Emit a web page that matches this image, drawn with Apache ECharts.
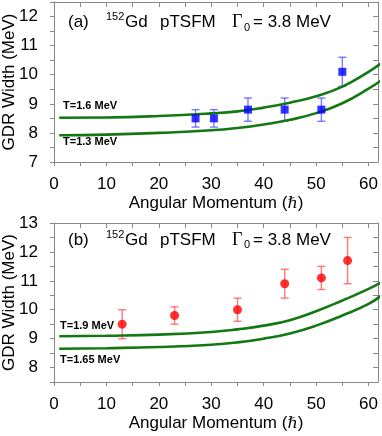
<!DOCTYPE html>
<html>
<head>
<meta charset="utf-8">
<script src="https://cdn.jsdelivr.net/npm/echarts@6/dist/echarts.min.js"></script>
<style>
  html, body { margin: 0; padding: 0; background: #fff; }
  #chart { width: 382px; height: 436px; }
</style>
</head>
<body>
<div id="chart"></div>
<script>
// angular momentum grid for the model curves
var curveJ = [1, 10, 20, 30, 35, 40, 45, 50, 55, 60, 62.6];
var widthT16 = [8.52, 8.53, 8.58, 8.67, 8.74, 8.87, 9.04, 9.26, 9.59, 10.10, 10.42];
var widthT13 = [7.92, 7.94, 8.00, 8.09, 8.17, 8.29, 8.45, 8.68, 9.02, 9.52, 9.83];
var widthT19 = [9.08, 9.10, 9.14, 9.23, 9.32, 9.45, 9.64, 9.95, 10.32, 10.72, 10.97];
var widthT165 = [8.65, 8.67, 8.71, 8.79, 8.87, 9.00, 9.18, 9.45, 9.80, 10.20, 10.52];

// measured points, panel (a)
var expJ_a = [27, 30.5, 37, 44, 51, 55];
var expW_a = [8.5, 8.5, 8.8, 8.8, 8.8, 10.1];
var expLo_a = [8.2, 8.2, 8.4, 8.4, 8.4, 9.6];
var expHi_a = [8.8, 8.8, 9.2, 9.2, 9.2, 10.6];

// measured points, panel (b)
var expJ_b = [13, 23, 35, 44, 51, 56];
var expW_b = [9.5, 9.8, 10.0, 10.9, 11.1, 11.7];
var expLo_b = [9.0, 9.5, 9.6, 10.4, 10.7, 10.9];
var expHi_b = [10.0, 10.1, 10.4, 11.4, 11.5, 12.5];

var xTicks = [0, 10, 20, 30, 40, 50, 60];

function pairs(xs, ys) {
    return xs.map(function (x, i) { return [x, ys[i]]; });
}
function triples(xs, lo, hi) {
    return xs.map(function (x, i) { return [x, lo[i], hi[i]]; });
}

var font = 'Liberation Sans, Arial, sans-serif';
var frame = '#888';
var green = '#127812';

function errorBars(color) {
    return function (params, api) {
        var x = api.value(0);
        var lo = api.coord([x, api.value(1)]);
        var hi = api.coord([x, api.value(2)]);
        var w = 4;
        var st = { stroke: color, lineWidth: 1.4 };
        return {
            type: 'group',
            children: [
                { type: 'line', shape: { x1: lo[0], y1: lo[1], x2: hi[0], y2: hi[1] }, style: st },
                { type: 'line', shape: { x1: lo[0] - w, y1: lo[1], x2: lo[0] + w, y2: lo[1] }, style: st },
                { type: 'line', shape: { x1: hi[0] - w, y1: hi[1], x2: hi[0] + w, y2: hi[1] }, style: st }
            ]
        };
    };
}

function bottomAxis(grid) {
    return {
        type: 'value', gridIndex: grid, position: 'bottom',
        min: 0, max: 61.8, interval: 5,
        name: 'Angular Momentum ({h|ℏ})', nameLocation: 'middle', nameGap: 33, nameMoveOverlap: false,
        nameTextStyle: { fontFamily: font, fontSize: 17, color: '#000', rich: { h: { fontFamily: 'DejaVu Serif', fontStyle: 'italic', fontSize: 16, color: '#000' } } },
        axisLine: { show: true, onZero: false, lineStyle: { color: frame, width: 1 } },
        axisTick: { show: true, inside: false, length: 4, lineStyle: { color: frame } },
        axisLabel: {
            margin: 14, fontFamily: font, fontSize: 17, color: '#000',
            showMaxLabel: false,
            formatter: function (v) { return xTicks.indexOf(v) >= 0 ? String(v) : ''; }
        },
        splitLine: { show: false }
    };
}
function topAxis(grid) {
    return {
        type: 'value', gridIndex: grid, position: 'top',
        min: 0, max: 61.8, interval: 5,
        axisLine: { show: true, onZero: false, lineStyle: { color: frame, width: 1 } },
        axisTick: { show: true, inside: true, length: 5, lineStyle: { color: frame } },
        axisLabel: { show: false },
        splitLine: { show: false }
    };
}
function leftAxis(grid, min, max) {
    return {
        type: 'value', gridIndex: grid, position: 'left',
        min: min, max: max, interval: 0.5,
        name: 'GDR Width (MeV)', nameLocation: 'middle', nameGap: 36, nameMoveOverlap: false,
        nameTextStyle: { fontFamily: font, fontSize: 17, color: '#000' },
        axisLine: { show: true, onZero: false, lineStyle: { color: frame, width: 1 } },
        axisTick: { show: true, inside: false, length: 4, lineStyle: { color: frame } },
        axisLabel: {
            margin: 16, fontFamily: font, fontSize: 17, color: '#000',
            formatter: function (v) { return Math.abs(v - Math.round(v)) < 1e-6 ? String(Math.round(v)) : ''; }
        },
        splitLine: { show: false }
    };
}
function rightAxis(grid, min, max) {
    return {
        type: 'value', gridIndex: grid, position: 'right',
        min: min, max: max, interval: 0.5,
        axisLine: { show: true, onZero: false, lineStyle: { color: frame, width: 1 } },
        axisTick: { show: true, inside: true, length: 5, lineStyle: { color: frame } },
        axisLabel: { show: false },
        splitLine: { show: false }
    };
}

function curve(xi, yi, ys) {
    return {
        type: 'line', xAxisIndex: xi, yAxisIndex: yi,
        data: pairs(curveJ, ys), smooth: true, showSymbol: false, clip: false,
        lineStyle: { color: green, width: 2.6 }, silent: true
    };
}

function label(text, x, y, size, extra) {
    return {
        type: 'text', x: x, y: y,
        style: Object.assign({ text: text, fill: '#000', font: size + 'px ' + font, verticalAlign: 'middle' }, extra || {})
    };
}

function header(tag, y) {
    return [
        label(tag, 68, y, 17),
        label('152', 106, y - 5.5, 11),
        label('Gd', 125, y, 17),
        label('pTSFM', 160, y, 17),
        { type: 'text', x: 232, y: y, style: { text: 'Γ', fill: '#000', font: '18px Liberation Serif, serif', verticalAlign: 'middle' } },
        label('0', 244, y + 5, 11),
        label('= 3.8 MeV', 253, y, 17)
    ];
}

var option = {
    animation: false,
    grid: [
        { left: 54, top: 2, width: 324, height: 160, containLabel: false, outerBoundsMode: 'none' },
        { left: 54, top: 223, width: 324, height: 159, containLabel: false, outerBoundsMode: 'none' }
    ],
    xAxis: [bottomAxis(0), topAxis(0), bottomAxis(1), topAxis(1)],
    yAxis: [leftAxis(0, 7, 12.5), rightAxis(0, 7, 12.5), leftAxis(1, 7.5, 13), rightAxis(1, 7.5, 13)],
    series: [
        curve(0, 0, widthT16),
        curve(0, 0, widthT13),
        {
            type: 'custom', xAxisIndex: 0, yAxisIndex: 0,
            renderItem: errorBars('rgba(80,80,255,0.75)'),
            data: triples(expJ_a, expLo_a, expHi_a), z: 3
        },
        {
            type: 'scatter', xAxisIndex: 0, yAxisIndex: 0,
            data: pairs(expJ_a, expW_a), symbol: 'rect', symbolSize: 8,
            itemStyle: { color: '#0000ff' }, z: 4
        },
        curve(2, 2, widthT19),
        curve(2, 2, widthT165),
        {
            type: 'custom', xAxisIndex: 2, yAxisIndex: 2,
            renderItem: errorBars('rgba(255,90,90,0.8)'),
            data: triples(expJ_b, expLo_b, expHi_b), z: 3
        },
        {
            type: 'scatter', xAxisIndex: 2, yAxisIndex: 2,
            data: pairs(expJ_b, expW_b), symbol: 'circle', symbolSize: 9,
            itemStyle: { color: '#ff0000' }, z: 4
        }
    ],
    graphic: [].concat(
        header('(a)', 22.5),
        header('(b)', 240),
        [
            label('T=1.6 MeV', 63, 106, 11, { font: 'bold 11px ' + font }),
            label('T=1.3 MeV', 63, 142, 11, { font: 'bold 11px ' + font }),
            label('T=1.9 MeV', 60, 326, 11, { font: 'bold 11px ' + font }),
            label('T=1.65 MeV', 60, 359.5, 11, { font: 'bold 11px ' + font })
        ]
    )
};

var chartDom = document.getElementById('chart');
var myChart = echarts.init(chartDom, null, { renderer: 'canvas' });
myChart.setOption(option);
</script>
</body>
</html>
